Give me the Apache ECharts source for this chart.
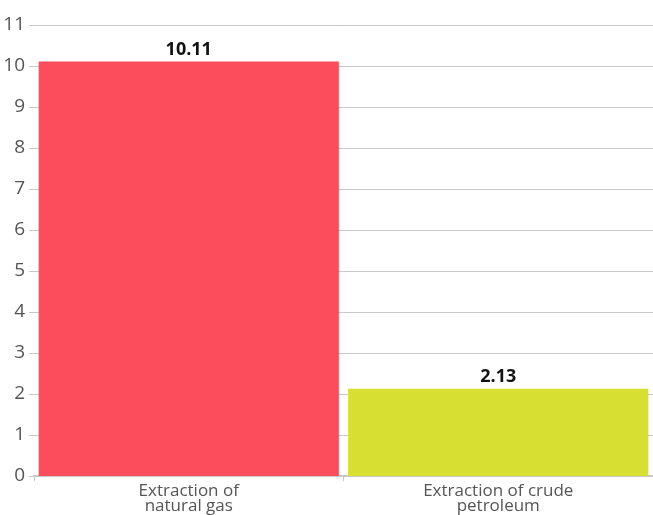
<!DOCTYPE html>
<html>
<head>
<meta charset="utf-8">
<script src="https://cdn.jsdelivr.net/npm/echarts@6/dist/echarts.min.js"></script>
<style>
  html, body { margin: 0; padding: 0; background: #fff; }
  #chart { width: 653px; height: 515px; }
</style>
</head>
<body>
<div id="chart"></div>
<script>
const categories = ['Extraction of\nnatural gas', 'Extraction of crude\npetroleum'];
const values = [10.11, 2.13];
const barColors = ['#fb4d5b', '#d8df33'];

const chart = echarts.init(document.getElementById('chart'));

chart.setOption({
    animation: false,
    grid: { left: 34, right: 0, top: 25, bottom: 39, containLabel: false },
    xAxis: {
        type: 'category',
        data: categories,
        axisLine: { lineStyle: { color: '#c8c8c8', width: 2 } },
        axisTick: { show: true, length: 5, lineStyle: { color: '#c8c8c8' } },
        axisLabel: {
            color: '#555',
            fontFamily: 'Open Sans',
            fontSize: 17,
            lineHeight: 15,
            margin: 8,
            interval: 0
        }
    },
    yAxis: {
        type: 'value',
        min: 0,
        max: 11,
        interval: 1,
        axisLine: { show: false },
        axisTick: { show: true, length: 5, lineStyle: { color: '#c8c8c8' } },
        splitLine: { lineStyle: { color: '#c8c8c8', width: 1 } },
        axisLabel: {
            color: '#555',
            fontFamily: 'Open Sans',
            fontSize: 19,
            margin: 9
        }
    },
    series: [{
        type: 'bar',
        data: values.map((v, i) => ({ value: v, itemStyle: { color: barColors[i] } })),
        barCategoryGap: '3%',
        label: {
            show: true,
            position: 'top',
            color: '#111',
            fontFamily: 'Open Sans',
            fontWeight: 'bold',
            fontSize: 18,
            distance: 3
        }
    }]
});
</script>
</body>
</html>
